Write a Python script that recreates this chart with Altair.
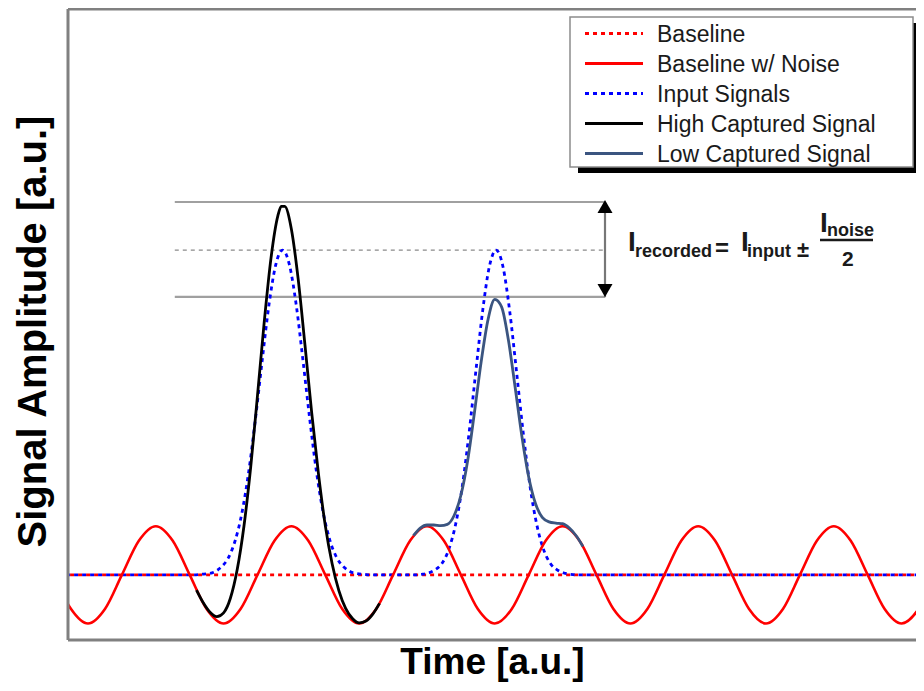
import altair as alt
import pandas as pd

# ---------------- data (arbitrary units) ----------------
# baseline with noise (sampled every quarter of a time unit)
noise_time = [round(-0.5 + 0.25 * i, 2) for i in range(53)]
noise_amp = [
    1.03, 0.49,
    0.26, 0.49, 1.03, 1.57, 1.80, 1.57, 1.03, 0.49,
    0.26, 0.49, 1.03, 1.57, 1.80, 1.57, 1.03, 0.49,
    0.26, 0.49, 1.03, 1.57, 1.80, 1.57, 1.03, 0.49,
    0.26, 0.49, 1.03, 1.57, 1.80, 1.57, 1.03, 0.49,
    0.26, 0.49, 1.03, 1.57, 1.80, 1.57, 1.03, 0.49,
    0.26, 0.49, 1.03, 1.57, 1.80, 1.57, 1.03, 0.49,
    0.26, 0.49, 1.03,
]

baseline_time = [-0.5, 12.5]
baseline_amp = [1.03, 1.03]

input_time = [
    -0.5, 1.57,
    1.67, 1.77, 1.87, 1.97, 2.07, 2.17, 2.27, 2.37, 2.47, 2.57, 2.67, 2.77, 2.87,
    2.97, 3.07, 3.17, 3.27, 3.37, 3.47, 3.57, 3.67, 3.77, 3.87, 3.97, 4.07,
    4.17, 4.82,
    4.92, 5.02, 5.12, 5.22, 5.32, 5.42, 5.52, 5.62, 5.72, 5.82, 5.92, 6.02,
    6.12, 6.22, 6.32, 6.42, 6.52, 6.62, 6.72, 6.82, 6.92, 7.02, 7.12,
    7.22, 12.5,
]
input_amp = [
    1.03, 1.03,
    1.04, 1.05, 1.08, 1.16, 1.30, 1.57, 2.01, 2.66, 3.50, 4.43, 5.31, 5.94, 6.17,
    5.94, 5.31, 4.43, 3.50, 2.66, 2.01, 1.57, 1.30, 1.16, 1.08, 1.05, 1.04,
    1.03, 1.03,
    1.04, 1.06, 1.11, 1.21, 1.43, 1.82, 2.43, 3.27, 4.25, 5.20, 5.91, 6.17,
    5.91, 5.20, 4.25, 3.27, 2.43, 1.82, 1.43, 1.21, 1.11, 1.06, 1.04,
    1.03, 1.03,
]

high_time = [1.6, 1.7, 1.8, 1.9, 2.0, 2.1, 2.2, 2.3, 2.4, 2.5, 2.6, 2.7, 2.8, 2.85,
             2.9, 3.0, 3.1, 3.2, 3.3, 3.4, 3.5, 3.6, 3.7, 3.8, 3.9, 4.0, 4.1, 4.2, 4.3]
high_amp = [0.79, 0.59, 0.44, 0.37, 0.43, 0.66, 1.11, 1.80, 2.74, 3.87, 5.04, 6.05, 6.71, 6.86,
            6.86, 6.50, 5.71, 4.67, 3.59, 2.62, 1.81, 1.21, 0.78, 0.50, 0.34, 0.27, 0.30, 0.41, 0.58]

low_time = [4.8, 4.9, 5.0, 5.1, 5.2, 5.3, 5.4, 5.5, 5.6, 5.7, 5.8, 5.9, 6.0,
            6.1, 6.2, 6.3, 6.4, 6.5, 6.6, 6.7, 6.8, 6.9, 7.0, 7.1, 7.2, 7.3]
low_amp = [1.65, 1.77, 1.82, 1.82, 1.81, 1.83, 1.97, 2.29, 2.84, 3.60, 4.41, 5.07, 5.39,
           5.27, 4.75, 4.00, 3.22, 2.58, 2.16, 1.94, 1.87, 1.85, 1.84, 1.77, 1.65, 1.48]

# recorded levels: high capture, input, low capture
level_values = [6.93, 6.17, 5.43]
level_start = 1.28
level_end = 7.63

legend_labels = ["Baseline", "Baseline w/ Noise", "Input Signals",
                 "High Captured Signal", "Low Captured Signal"]
legend_colors = ["#ff0000", "#ff0000", "#0000ff", "#000000", "#3b5580"]
legend_dashes = [[4, 4], [1, 0], [4, 4], [1, 0], [1, 0]]

# ---------------- layout helpers ----------------
FONT = "Liberation Sans"
PLOT_W, PLOT_H = 848, 631
T0, T1 = -0.295, (916 - 88) / 67.8
Y0, Y1 = 0.0, (640 - 9) / 63.2


def tx(px):  # page x pixel -> time units
    return (px - 88) / 67.8


def ay(py):  # page y pixel -> amplitude units
    return (640 - py) / 63.2


xs = alt.Scale(domain=[T0, T1], nice=False, zero=False)
ys = alt.Scale(domain=[Y0, Y1], nice=False, zero=False)
X = alt.X("t:Q", scale=xs, axis=alt.Axis(
    title="Time [a.u.]", ticks=False, labels=False, domain=False, grid=False,
    titleFont=FONT, titleFontSize=37, titleFontWeight="bold", titleColor="#000000",
    titlePadding=4))
Y = alt.Y("y:Q", scale=ys, axis=alt.Axis(
    title="Signal Amplitude [a.u.]", ticks=False, labels=False, domain=False, grid=False,
    titleFont=FONT, titleFontSize=40, titleFontWeight="bold", titleColor="#000000",
    titleX=-15, titleY=322))
X2 = alt.X2("t2:Q")
Yv2 = alt.Y2("y2:Q")

noise_df = pd.DataFrame({"t": noise_time, "y": noise_amp})
base_df = pd.DataFrame({"t": baseline_time, "y": baseline_amp})
input_df = pd.DataFrame({"t": input_time, "y": input_amp})
high_df = pd.DataFrame({"t": high_time, "y": high_amp})
low_df = pd.DataFrame({"t": low_time, "y": low_amp})

levels_df = pd.DataFrame({"t": [level_start] * 3, "t2": [level_end] * 3,
                          "y": level_values, "kind": ["solid", "dash", "solid"]})

layers = []

# guide levels
layers.append(alt.Chart(levels_df[levels_df.kind == "solid"]).mark_rule(
    color="#a0a0a0", strokeWidth=2.2).encode(x=X, x2=X2, y=Y))
layers.append(alt.Chart(levels_df[levels_df.kind == "dash"]).mark_rule(
    color="#8a8a8a", strokeWidth=1.3, strokeDash=[4, 4]).encode(x=X, x2=X2, y=Y))

# baseline (dotted red)
layers.append(alt.Chart(base_df).mark_line(
    color="#ff0000", strokeWidth=2.6, strokeDash=[4, 4], clip=True).encode(x=X, y=Y))
# input signals (dotted blue)
layers.append(alt.Chart(input_df).mark_line(
    color="#0000ff", strokeWidth=2.8, strokeDash=[4, 4], strokeDashOffset=4,
    interpolate="monotone", clip=True).encode(x=X, y=Y))
# baseline with noise
layers.append(alt.Chart(noise_df).mark_line(
    color="#ff0000", strokeWidth=2.6, interpolate="monotone", clip=True).encode(x=X, y=Y))
# captured signals
layers.append(alt.Chart(high_df).mark_line(
    color="#000000", strokeWidth=2.8, interpolate="monotone", clip=True).encode(x=X, y=Y))
layers.append(alt.Chart(low_df).mark_line(
    color="#3b5580", strokeWidth=2.8, interpolate="monotone", clip=True).encode(x=X, y=Y))

# frame: left, top and bottom edges (the right edge runs off the picture)
hframe = pd.DataFrame({"t": [T0, T0], "t2": [T1 + 1, T1 + 1], "y": [Y0, Y1]})
vframe = pd.DataFrame({"t": [T0], "y": [Y0], "y2": [Y1]})
layers.append(alt.Chart(hframe).mark_rule(color="#808080", strokeWidth=3).encode(x=X, x2=X2, y=Y))
layers.append(alt.Chart(vframe).mark_rule(color="#808080", strokeWidth=3).encode(x=X, y=Y, y2=Yv2))

# double arrow
arrow_t = tx(605)
shaft_df = pd.DataFrame({"t": [arrow_t], "y": [level_values[0]], "y2": [level_values[2]]})
layers.append(alt.Chart(shaft_df).mark_rule(color="#777777", strokeWidth=2.2).encode(
    x=X, y=Y, y2=Yv2))
heads_df = pd.DataFrame({"t": [arrow_t, arrow_t], "y": [ay(206.5), ay(290.5)],
                         "shape": ["triangle-up", "triangle-down"]})
layers.append(alt.Chart(heads_df).mark_point(
    filled=True, color="#000000", size=225, opacity=1, strokeWidth=0).encode(
    x=X, y=Y, shape=alt.Shape("shape:N", scale=None)))

# equation
eq_df = pd.DataFrame({
    "text": ["I", "recorded", "=", "I", "input", "\u00b1", "I", "noise", "2"],
    "t": [tx(628), tx(635), tx(715), tx(741), tx(747), tx(797), tx(820), tx(827), tx(842)],
    "y": [ay(251), ay(257), ay(256), ay(251), ay(257), ay(257), ay(232), ay(236), ay(266)],
    "fs": [28, 18, 24, 28, 18, 22, 28, 18, 21],
})
layers.append(alt.Chart(eq_df).mark_text(
    align="left", baseline="alphabetic", font=FONT, fontWeight="bold", color="#1a1a1a").encode(
    x=X, y=Y, text="text:N", size=alt.Size("fs:Q", scale=None)))
bar_df = pd.DataFrame({"t": [tx(820)], "t2": [tx(873)], "y": [ay(240)]})
layers.append(alt.Chart(bar_df).mark_rule(color="#1a1a1a", strokeWidth=2.5).encode(
    x=X, x2=X2, y=Y))

# legend
shadow_df = pd.DataFrame({"t": [tx(578)], "t2": [tx(921)], "y": [ay(23)], "y2": [ay(173)]})
box_df = pd.DataFrame({"t": [tx(570)], "t2": [tx(913)], "y": [ay(17)], "y2": [ay(167)]})
layers.append(alt.Chart(shadow_df).mark_rect(color="#000000").encode(x=X, x2=X2, y=Y, y2=Yv2))
layers.append(alt.Chart(box_df).mark_rect(
    fill="#ffffff", stroke="#8c8c8c", strokeWidth=1.5).encode(x=X, x2=X2, y=Y, y2=Yv2))

row_py = [33.5 + 30 * i for i in range(len(legend_labels))]
leg_df = pd.DataFrame({
    "label": legend_labels,
    "t": [tx(585)] * len(legend_labels),
    "t2": [tx(643)] * len(legend_labels),
    "y": [ay(p) for p in row_py],
})
layers.append(alt.Chart(leg_df).mark_rule(strokeWidth=2.8).encode(
    x=X, x2=X2, y=Y,
    color=alt.Color("label:N", scale=alt.Scale(domain=legend_labels, range=legend_colors), legend=None),
    strokeDash=alt.StrokeDash("label:N", scale=alt.Scale(domain=legend_labels, range=legend_dashes),
                              legend=None)))
leg_txt = pd.DataFrame({
    "label": legend_labels,
    "t": [tx(657)] * len(legend_labels),
    "y": [ay(p + 8.5) for p in row_py],
})
layers.append(alt.Chart(leg_txt).mark_text(
    align="left", baseline="alphabetic", font=FONT, fontSize=23, color="#1a1a1a").encode(
    x=X, y=Y, text="label:N"))

chart = alt.layer(*layers).properties(
    width=PLOT_W, height=PLOT_H,
    padding={"left": 60, "top": 1, "right": 0, "bottom": 43},
    autosize=alt.AutoSizeParams(type="none"),
    background="#ffffff",
).configure_view(stroke=None)

chart.save("out.html", embed_options={"renderer": "svg", "actions": False})
